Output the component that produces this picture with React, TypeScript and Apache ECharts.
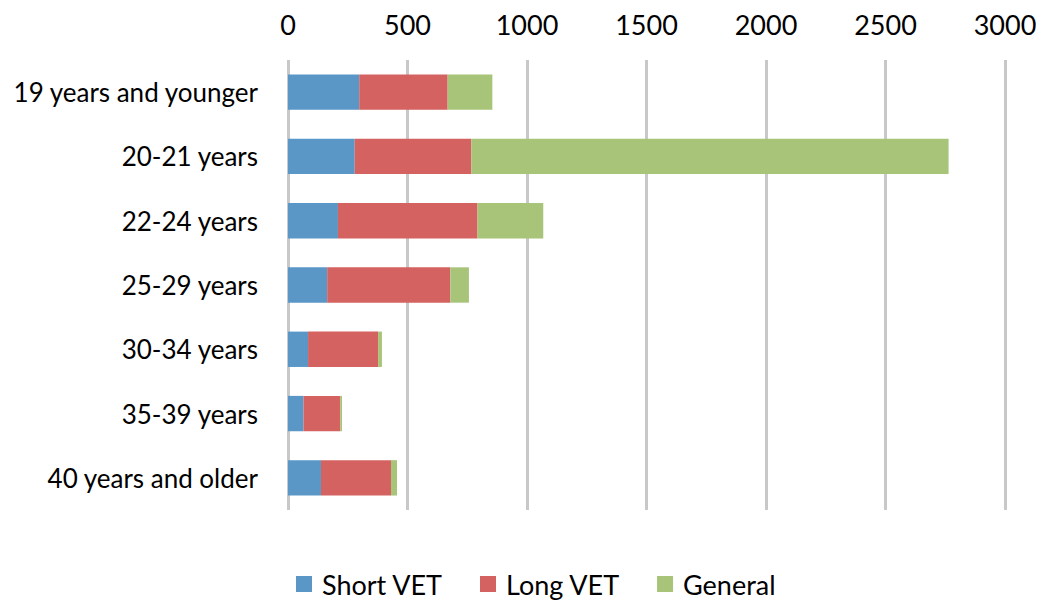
import React, { useEffect, useRef } from "react";
import * as echarts from "echarts";

const categories = [
  "19 years and younger",
  "20-21 years",
  "22-24 years",
  "25-29 years",
  "30-34 years",
  "35-39 years",
  "40 years and older",
];
const shortVET = [298, 279, 209, 164, 84, 65, 138];
const longVET = [370, 488, 584, 515, 293, 154, 293];
const general = [187, 1997, 275, 78, 16, 7, 25];
const xTicks = { min: 0, max: 3000, interval: 500 };

const FONT = "Lato, 'Open Sans', sans-serif";

export default function App() {
  const ref = useRef<HTMLDivElement>(null);
  useEffect(() => {
    if (!ref.current) return;
    const chart = echarts.init(ref.current, undefined, { renderer: "svg" });
    chart.setOption({
      animation: false,
      textStyle: { fontFamily: FONT },
      grid: { left: 288, right: 36, top: 60, bottom: 92, containLabel: false },
      legend: {
        left: 296,
        top: 570,
        padding: 0,
        itemWidth: 16,
        itemHeight: 16,
        itemGap: 37,
        icon: "rect",
        textStyle: {
          fontSize: 27,
          lineHeight: 28,
          color: "#000",
          fontFamily: FONT,
          padding: [0, 0, 0, 5],
        },
        data: ["Short VET", "Long VET", "General"],
      },
      xAxis: {
        type: "value",
        position: "top",
        min: xTicks.min,
        max: xTicks.max,
        interval: xTicks.interval,
        axisLine: { show: false },
        axisTick: { show: false },
        axisLabel: {
          fontSize: 27,
          color: "#000",
          margin: 22,
          fontFamily: FONT,
          formatter: (v: number) => String(v),
        },
        splitLine: { show: true, lineStyle: { color: "#c8c8c8", width: 3 } },
      },
      yAxis: {
        type: "category",
        inverse: true,
        data: categories,
        axisLine: { show: false },
        axisTick: { show: false },
        axisLabel: { fontSize: 26, color: "#000", margin: 30, fontFamily: FONT },
      },
      series: [
        { name: "Short VET", type: "bar", stack: "t", data: shortVET, barWidth: "55%", itemStyle: { color: "#5a96c6" } },
        { name: "Long VET", type: "bar", stack: "t", data: longVET, itemStyle: { color: "#d46261" } },
        { name: "General", type: "bar", stack: "t", data: general, itemStyle: { color: "#a7c479" } },
      ],
    });
    return () => chart.dispose();
  }, []);
  return (
    <div
      ref={ref}
      style={{ position: "absolute", left: 0, top: 0, width: 1041, height: 602, background: "#fff" }}
    />
  );
}
